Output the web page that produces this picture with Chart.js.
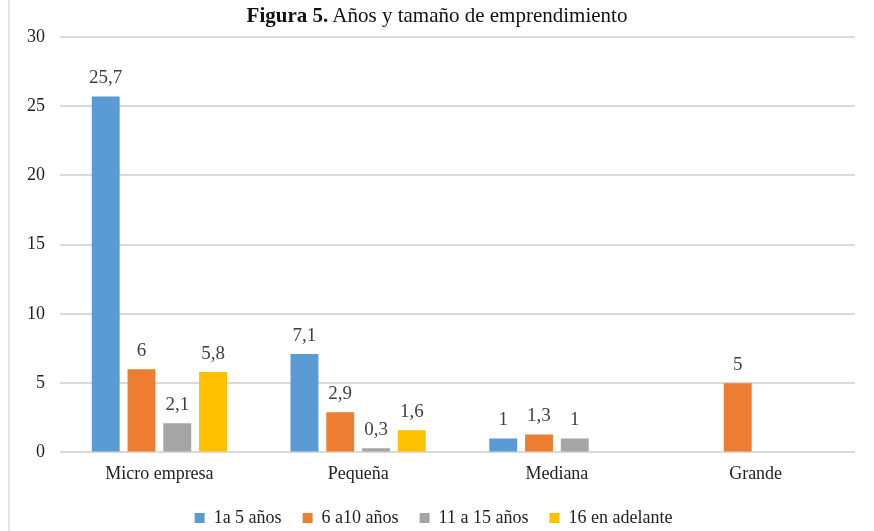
<!DOCTYPE html>
<html>
<head>
<meta charset="utf-8">
<script src="https://cdn.jsdelivr.net/npm/chart.js@4.4.1/dist/chart.umd.min.js"></script>
<style>
  html, body { margin: 0; padding: 0; background: #fff; }
  #wrap { position: relative; width: 874px; height: 531px; }
  #edge { position: absolute; left: 8px; top: 0; width: 2px; height: 531px; background: #e4e4e4; }
  #title { position: absolute; top: 2px; left: 0; width: 874px; text-align: center;
    font-family: "Liberation Serif", serif; font-size: 21px; line-height: 26px; color: #111; }
</style>
</head>
<body>
<div id="wrap">
  <canvas id="barChart" width="874" height="531"></canvas>
  <div id="edge"></div>
  <div id="title"><b>Figura 5.</b> Años y tamaño de emprendimiento</div>
</div>
<script>
const categories = ['Micro empresa', 'Pequeña', 'Mediana', 'Grande'];
const unoA5 = [25.7, 7.1, 1, null];
const seisA10 = [6, 2.9, 1.3, 5];
const onceA15 = [2.1, 0.3, 1, null];
const dieciseisMas = [5.8, 1.6, null, null];
const yTicks = [0, 5, 10, 15, 20, 25, 30];

const fontFamily = 'Liberation Serif';

// value labels above bars, comma decimals
const valueLabels = {
  id: 'valueLabels',
  afterDatasetsDraw(chart) {
    const ctx = chart.ctx;
    ctx.save();
    ctx.font = '19px "Liberation Serif"';
    ctx.fillStyle = '#404040';
    ctx.textAlign = 'center';
    ctx.textBaseline = 'bottom';
    chart.data.datasets.forEach((ds, i) => {
      chart.getDatasetMeta(i).data.forEach((bar, j) => {
        const v = ds.data[j];
        if (v == null) return;
        ctx.fillText(String(v).replace('.', ','), bar.x, bar.y - 9);
      });
    });
    ctx.restore();
  }
};

new Chart(document.getElementById('barChart'), {
  type: 'bar',
  data: {
    labels: categories,
    datasets: [
      { label: '1a 5 años', data: unoA5, backgroundColor: '#5B9BD5' },
      { label: '6 a10 años', data: seisA10, backgroundColor: '#ED7D31' },
      { label: '11 a 15 años', data: onceA15, backgroundColor: '#A5A5A5' },
      { label: '16 en adelante', data: dieciseisMas, backgroundColor: '#FFC000' }
    ]
  },
  options: {
    responsive: false,
    animation: false,
    layout: { padding: { top: 37, right: 19, left: 12, bottom: -6 } },
    datasets: { bar: { categoryPercentage: 0.72, barPercentage: 0.78 } },
    scales: {
      x: {
        grid: { display: false },
        border: { display: false },
        ticks: { color: '#222', font: { family: fontFamily, size: 18 }, padding: 3 }
      },
      y: {
        min: 0, max: 30,
        afterBuildTicks: axis => { axis.ticks = yTicks.map(v => ({ value: v })); },
        grid: { color: '#d9d9d9', lineWidth: 2, drawTicks: false },
        border: { display: false },
        ticks: { color: '#222', font: { family: fontFamily, size: 18 }, padding: 15 }
      }
    },
    plugins: {
      legend: {
        position: 'bottom',
        labels: {
          usePointStyle: true, pointStyle: 'rect', boxWidth: 10, boxHeight: 10,
          color: '#222', font: { family: fontFamily, size: 18 }, padding: 21
        }
      },
      tooltip: { enabled: false }
    }
  },
  plugins: [valueLabels]
});
</script>
</body>
</html>
